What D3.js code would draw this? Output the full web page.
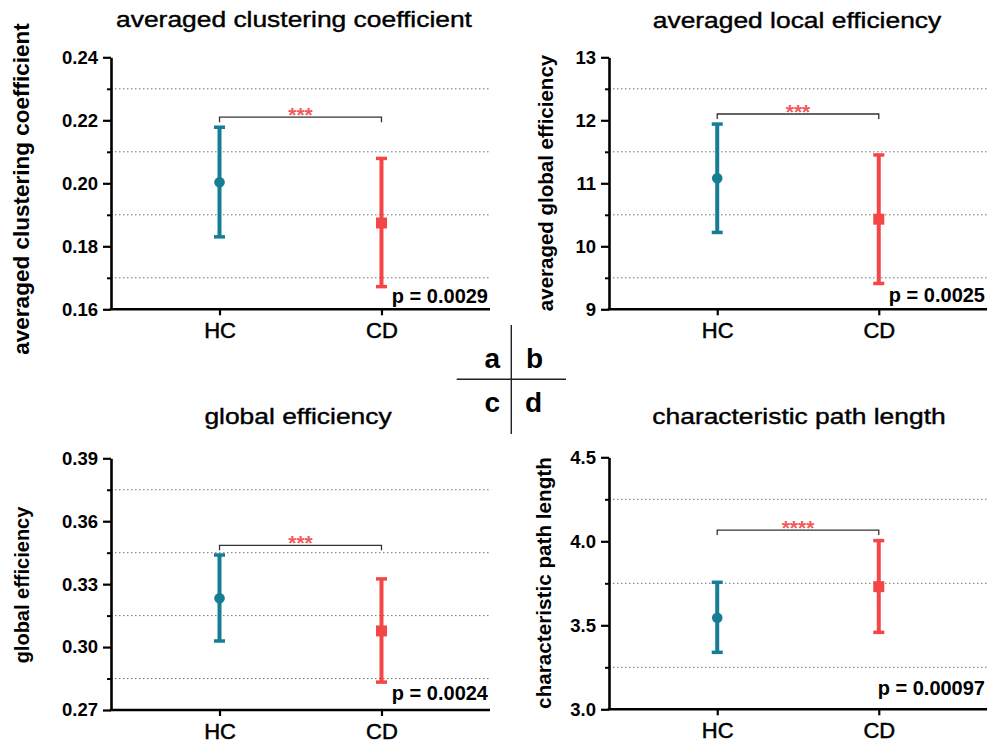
<!DOCTYPE html>
<html>
<head>
<meta charset="utf-8">
<script src="https://cdn.jsdelivr.net/npm/d3@7"></script>
<style>
  body { margin: 0; background: #fff; }
  svg { display: block; font-family: "Liberation Sans", Arial, sans-serif; }
</style>
</head>
<body>
<svg width="998" height="744"></svg>
<script>
// Group names and panel texts
const categories = ["HC", "CD"];
const titles = ["averaged clustering coefficient", "averaged local efficiency", "global efficiency", "characteristic path length"];
const yLabels = ["averaged clustering coefficient", "averaged global efficiency", "global efficiency", "characteristic path length"];
const pValues = ["p = 0.0029", "p = 0.0025", "p = 0.0024", "p = 0.00097"];
const stars = ["***", "***", "***", "****"];

// Mean and error bar ends, one pair [HC, CD] per panel
const means   = [[0.2003, 0.1874], [11.08, 10.43], [0.3233, 0.3077], [3.545, 3.730]];
const errLow  = [[0.1830, 0.1672], [10.22, 9.41], [0.3029, 0.2833], [3.339, 3.458]];
const errHigh = [[0.2178, 0.2079], [11.94, 11.45], [0.3439, 0.3325], [3.756, 4.004]];
const bracketY = [0.221, 12.1, 0.3485, 4.067];

// Axis ranges and ticks
const yDomains = [[0.16, 0.24], [9, 13], [0.27, 0.39], [3.0, 4.5]];
const majorTicks = [[0.16, 0.18, 0.20, 0.22, 0.24], [9, 10, 11, 12, 13], [0.27, 0.30, 0.33, 0.36, 0.39], [3.0, 3.5, 4.0, 4.5]];
const minorTicks = [[0.17, 0.19, 0.21, 0.23], [9.5, 10.5, 11.5, 12.5], [0.285, 0.315, 0.345, 0.375], [3.25, 3.75, 4.25]];
const tickFormats = [".2f", "d", ".2f", ".1f"];

// Layout of the four panels (plot box in pixels)
const panels = [
  { x0: 111, x1: 490, top: 57.3, bottom: 309.3, titleX: 294, titleY: 27, labX: 29, labY: 189, labSize: 22.5, pDy: 6 },
  { x0: 609, x1: 987, top: 57.3, bottom: 309.3, titleX: 797, titleY: 28, labX: 553, labY: 183, labSize: 20.5, pDy: 7 },
  { x0: 111, x1: 490, top: 458.3, bottom: 710, titleX: 298, titleY: 424, labX: 29, labY: 585, labSize: 20, pDy: 10 },
  { x0: 609, x1: 987, top: 457.3, bottom: 709.3, titleX: 799, titleY: 424, labX: 551, labY: 583, labSize: 20.7, pDy: 14 }
];

const colors = { HC: "#167d95", CD: "#f44646" };

const svg = d3.select("svg");

panels.forEach((p, i) => {
  const g = svg.append("g");

  const x = d3.scalePoint()
      .domain(categories)
      .range([p.x0, p.x1])
      .padding(0.67);

  const y = d3.scaleLinear()
      .domain(yDomains[i])
      .range([p.bottom, p.top]);

  // dotted grid at the minor ticks
  g.selectAll(".grid")
    .data(minorTicks[i])
    .join("line")
      .attr("x1", p.x0)
      .attr("x2", p.x1)
      .attr("y1", d => y(d))
      .attr("y2", d => y(d))
      .attr("stroke", "#707070")
      .attr("stroke-width", 1)
      .attr("stroke-dasharray", "1.5,2.5");

  // minor ticks on the y axis
  g.append("g")
      .attr("transform", `translate(${p.x0},0)`)
      .call(d3.axisLeft(y).tickValues(minorTicks[i]).tickSize(4).tickFormat(""))
      .call(a => a.select(".domain").remove())
      .call(a => a.selectAll(".tick line").attr("stroke", "#000").attr("stroke-width", 2));

  // main y axis
  g.append("g")
      .attr("transform", `translate(${p.x0},0)`)
      .call(d3.axisLeft(y).tickValues(majorTicks[i]).tickSize(8).tickSizeOuter(0).tickPadding(5).tickFormat(d3.format(tickFormats[i])))
      .call(a => a.select(".domain").attr("stroke", "#000").attr("stroke-width", 2.6))
      .call(a => a.selectAll(".tick line").attr("stroke", "#000").attr("stroke-width", 2.2))
      .call(a => a.selectAll(".tick text")
          .attr("fill", "#000")
          .style("font-size", "18.5px")
          .style("font-weight", "bold"));

  // x axis
  g.append("g")
      .attr("transform", `translate(0,${p.bottom})`)
      .call(d3.axisBottom(x).tickSize(6).tickSizeOuter(0).tickPadding(7))
      .call(a => a.select(".domain").attr("stroke", "#000").attr("stroke-width", 2.6)
          .attr("d", `M${p.x0 - 1.3},0H${p.x1}`))
      .call(a => a.selectAll(".tick line").attr("stroke", "#000").attr("stroke-width", 2.2))
      .call(a => a.selectAll(".tick text")
          .attr("fill", "#000")
          .attr("stroke", "#000")
          .attr("stroke-width", 0.5)
          .style("font-size", "22px"));

  // error bars
  const rows = categories.map((c, j) => ({ c, m: means[i][j], lo: errLow[i][j], hi: errHigh[i][j] }));

  g.selectAll(".err")
    .data(rows)
    .join("line")
      .attr("x1", d => x(d.c))
      .attr("x2", d => x(d.c))
      .attr("y1", d => y(d.lo))
      .attr("y2", d => y(d.hi))
      .attr("stroke", d => colors[d.c])
      .attr("stroke-width", 4);

  rows.forEach(d => {
    [d.lo, d.hi].forEach(v => {
      g.append("line")
          .attr("x1", x(d.c) - 5.5)
          .attr("x2", x(d.c) + 5.5)
          .attr("y1", y(v))
          .attr("y2", y(v))
          .attr("stroke", colors[d.c])
          .attr("stroke-width", 3.5);
    });
  });

  // markers: circle for HC, square for CD
  g.append("circle")
      .attr("cx", x(rows[0].c))
      .attr("cy", y(rows[0].m))
      .attr("r", 5.3)
      .attr("fill", colors.HC);

  g.append("rect")
      .attr("x", x(rows[1].c) - 5.5)
      .attr("y", y(rows[1].m) - 5.5)
      .attr("width", 11)
      .attr("height", 11)
      .attr("fill", colors.CD);

  // significance bracket
  const by = y(bracketY[i]);
  g.append("path")
      .attr("d", `M${x("HC")},${by + 5}V${by}H${x("CD")}V${by + 5}`)
      .attr("fill", "none")
      .attr("stroke", "#333")
      .attr("stroke-width", 1.3);

  g.append("text")
      .attr("x", (x("HC") + x("CD")) / 2)
      .attr("y", by + 5)
      .attr("text-anchor", "middle")
      .attr("fill", "#f25a5a")
      .style("font-size", "21px")
      .style("font-weight", "bold")
      .text(stars[i]);

  // p value
  g.append("text")
      .attr("x", p.x1 - 2)
      .attr("y", p.bottom - p.pDy)
      .attr("text-anchor", "end")
      .style("font-size", "20px")
      .style("font-weight", "bold")
      .text(pValues[i]);

  // panel title
  g.append("text")
      .attr("transform", `translate(${p.titleX},${p.titleY}) scale(1.2,1)`)
      .attr("text-anchor", "middle")
      .attr("stroke", "#000")
      .attr("stroke-width", 0.4)
      .style("font-size", "22px")
      .text(titles[i]);

  // y axis label
  g.append("text")
      .attr("transform", `translate(${p.labX},${p.labY}) rotate(-90)`)
      .attr("text-anchor", "middle")
      .style("font-size", p.labSize + "px")
      .style("font-weight", "bold")
      .text(yLabels[i]);
});

// centre key a | b / c | d
const key = svg.append("g");
key.append("line")
    .attr("x1", 511.3).attr("x2", 511.3)
    .attr("y1", 325).attr("y2", 434)
    .attr("stroke", "#222").attr("stroke-width", 1.4);
key.append("line")
    .attr("x1", 456.7).attr("x2", 566)
    .attr("y1", 379.3).attr("y2", 379.3)
    .attr("stroke", "#222").attr("stroke-width", 1.4);

const keyLetters = [["a", 500, 367.7, "end"], ["b", 526, 367.7, "start"], ["c", 500, 411.7, "end"], ["d", 525, 411.7, "start"]];
key.selectAll("text")
  .data(keyLetters)
  .join("text")
    .attr("x", d => d[1])
    .attr("y", d => d[2])
    .attr("text-anchor", d => d[3])
    .style("font-size", "28px")
    .style("font-weight", "bold")
    .text(d => d[0]);
</script>
</body>
</html>
